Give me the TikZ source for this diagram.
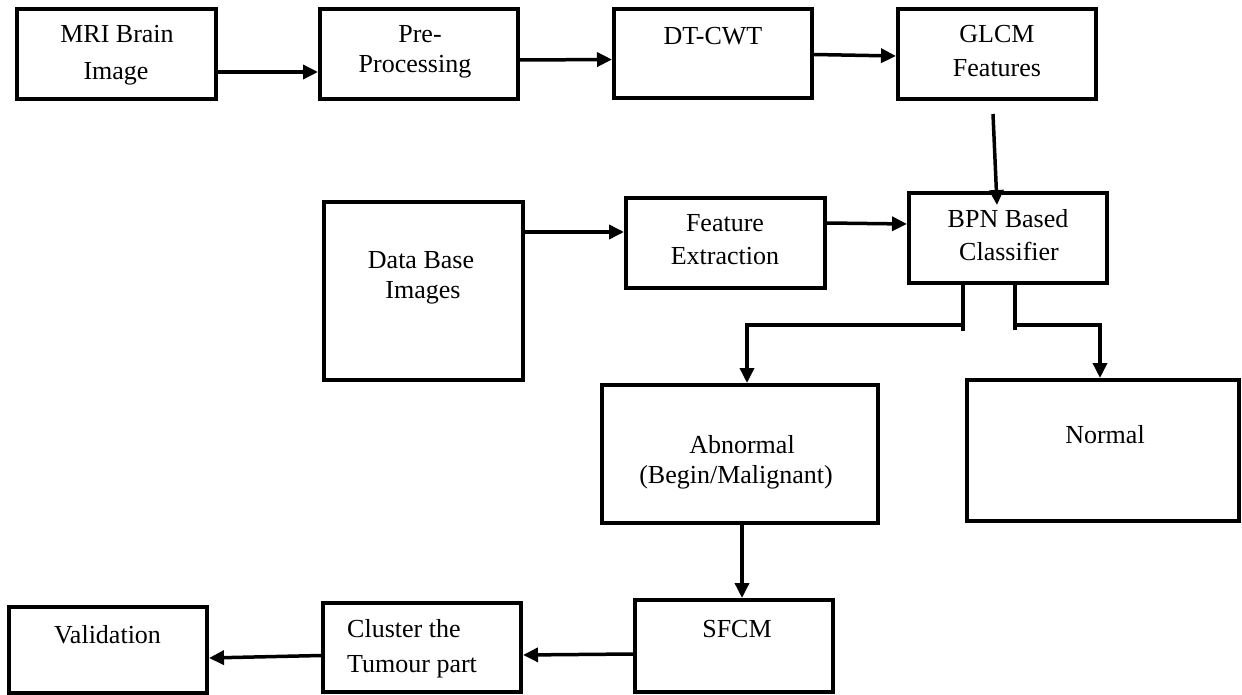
\documentclass[tikz,border=0pt]{standalone}
\usepackage{fontspec}
\setmainfont{Liberation Serif}
\usetikzlibrary{arrows.meta,calc}
\begin{document}
\begin{tikzpicture}[x=1pt,y=-1pt,
  box/.style={draw=black,line width=4pt,inner sep=0pt,fill=none},
  txt/.style={inner sep=0pt,anchor=base,font=\fontsize{26}{30}\selectfont},
  txtl/.style={inner sep=0pt,anchor=base west,font=\fontsize{26}{30}\selectfont},
  arr/.style={line width=3.5pt,-{Triangle[length=15pt,width=14pt]}},
  seg/.style={line width=3.5pt}]
\useasboundingbox (0,0) rectangle (1242,695);
% boxes
\node[box,minimum width=199pt,minimum height=90pt] (mri) at (116.5,54) {};
\node[box,minimum width=198pt,minimum height=90pt] (pre) at (419,54) {};
\node[box,minimum width=198pt,minimum height=89pt] (dt) at (713,53.5) {};
\node[box,minimum width=198pt,minimum height=90pt] (glcm) at (997,54) {};
\node[box,minimum width=199pt,minimum height=178pt] (db) at (423.5,291) {};
\node[box,minimum width=199pt,minimum height=90pt] (fe) at (725.5,243) {};
\node[box,minimum width=198pt,minimum height=90pt] (bpn) at (1008,238) {};
\node[box,minimum width=276pt,minimum height=138pt] (abn) at (740,454) {};
\node[box,minimum width=272pt,minimum height=141pt] (nor) at (1103,450.5) {};
\node[box,minimum width=198pt,minimum height=92pt] (sfcm) at (734,646) {};
\node[box,minimum width=198pt,minimum height=89pt] (clu) at (422,647.5) {};
\node[box,minimum width=198pt,minimum height=86pt] (val) at (108,650) {};
% texts
\node[txt] (t1a) at (117,43) {MRI Brain};
\node[txt] (t1b) at (116,80) {Image};
\node[txt] (t2a) at (420,43) {Pre-};
\node[txt] (t2b) at (415,73) {Processing};
\node[txt] (t3) at (713,45) {DT-CWT};
\node[txt] (t4a) at (997,43) {GLCM};
\node[txt] (t4b) at (997,77) {Features};
\node[txt] (t5a) at (421,269) {Data Base};
\node[txt] (t5b) at (423,298) {Images};
\node[txt] (t6a) at (725,232) {Feature};
\node[txt] (t6b) at (725,264) {Extraction};
\node[txt] (t7a) at (1008,227) {BPN Based};
\node[txt] (t7b) at (1009,260) {Classifier};
\node[txt] (t8a) at (742,453) {Abnormal};
\node[txt] (t8b) at (736,483) {(Begin/Malignant)};
\node[txt] (t9) at (1105,443) {Normal};
\node[txt] (t10) at (737,637) {SFCM};
\node[txtl] (t11a) at (347,637) {Cluster the};
\node[txtl] (t11b) at (347,672) {Tumour part};
\node[txt] (t12) at (107.5,643) {Validation};
% connectors
\draw[arr] ($(mri.east)+(-2,18)$) -- ($(pre.west)+(0,18)$);
\draw[arr] ($(pre.east)+(0,6)$) -- ($(dt.west)+(0,6)$);
\draw[arr] ($(dt.east)+(0,1)$) -- ($(glcm.west)+(0,2)$);
\draw[arr] ($(glcm.south)+(-4,13)$) -- ($(bpn.north)+(-11,14)$);
\draw[arr] ($(db.east)+(0,-59)$) -- ($(fe.west)+(0,-11)$);
\draw[arr] ($(fe.east)+(0,-20)$) -- ($(bpn.west)+(0,-14)$);
% split below classifier
\coordinate (bl) at ($(bpn.south)+(-45,0)$);
\coordinate (br) at ($(bpn.south)+(7,0)$);
\draw[seg] (bl) -- ++(0,46);
\draw[line width=4.5pt] (br) -- ++(0,45);
\draw[arr] ($(bl)+(0,40)$) -| ($(abn.north)+(7,0)$);
\draw[arr] ($(br)+(0,40)$) -| ($(nor.north)+(-3,0)$);
\draw[arr] ($(abn.south)+(2,0)$) -- ($(sfcm.north)+(8,0)$);
\draw[arr] ($(sfcm.west)+(0,8)$) -- ($(clu.east)+(0,7.5)$);
\draw[arr] ($(clu.west)+(0,8)$) -- ($(val.east)+(0,8)$);
\end{tikzpicture}
\end{document}
